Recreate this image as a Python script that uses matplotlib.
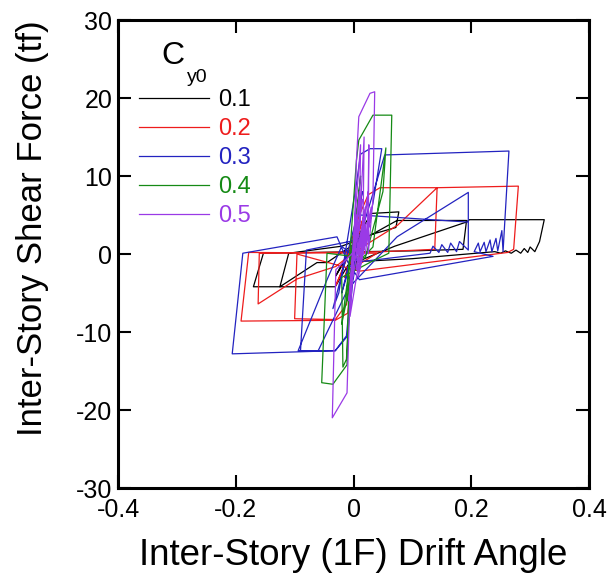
import matplotlib
matplotlib.use("Agg")
import matplotlib.pyplot as plt
from matplotlib.ticker import FixedLocator, FixedFormatter

plt.rcParams['font.family'] = ['Liberation Sans', 'DejaVu Sans']
plt.rcParams['axes.unicode_minus'] = False

# ---- data (drift angle, shear force tf) ----
labels = ['0.1', '0.2', '0.3', '0.4', '0.5']
colors = ['#000000', '#ee1c1c', '#2323c0', '#158a15', '#9a3ae6']

black_x = [0, 0.006, 0.002, -0.012, -0.006, 0.018, 0.012, -0.03, -0.022, 0.03, 0.077, 0.072, 0.035,
           -0.02, -0.11, -0.125, -0.062, -0.045, 0.0, 0.074, 0.192, 0.186, 0.1, -0.153, -0.17, -0.031,
           -0.01, 0.07, 0.192, 0.197, 0.324, 0.316, 0.308, 0.300, 0.296, 0.290, 0.284, 0.276, 0.268,
           0.258, 0.25, 0.24, 0.10, 0.0]
black_y = [0, 2.6, 1.4, -2.2, -1.2, 3.6, 2.4, -2.8, -1.6, 5.2, 5.4, 3.4, 2.6,
           1.0, 0.1, -4.2, -1.1, -1.1, 1.2, 4.3, 4.3, 0.6, 0.4, 0.1, -4.2, -4.2,
           -1.5, 1.0, 4.1, 4.4, 4.4, 1.6, 0.3, 0.9, 0.2, 0.7, 0.1, 0.5, 0.1,
           0.4, 0.1, 0.3, -0.6, -1.0]

red_x = [0, 0.008, 0.004, -0.015, -0.008, 0.02, 0.014, -0.03, -0.02, 0.01, 0.025, 0.045, 0.142,
         0.138, 0.05, -0.16, -0.162, -0.096, -0.03, 0.0, 0.075, 0.142, 0.28, 0.272, 0.262, 0.01,
         -0.096, -0.1, -0.031, -0.012, -0.005, 0.04, -0.178, -0.191, -0.031, -0.01, 0.0, 0.015, 0.0]
red_y = [0, 3.0, 1.6, -3.0, -1.8, 5.5, 4.0, -4.0, -2.4, 5.0, 7.6, 8.5, 8.5,
         0.6, 0.3, 0.1, -6.4, -3.2, -1.6, 0.2, 3.7, 8.5, 8.7, 0.6, 0.2, -2.2,
         0.0, -8.3, -8.4, -6.5, -2.0, 0.1, 0.2, -8.6, -8.5, -7.6, -2.5, 0.8, 0.0]

blue_x = [0, 0.01, 0.005, -0.02, -0.012, 0.015, 0.01, -0.035, -0.025, 0.005, 0.012, 0.028, 0.048,
          0.033, 0.02, -0.08, -0.09, -0.031, -0.012, -0.004, 0.074, 0.195, 0.195,
          0.18, 0.175, 0.165, 0.16, 0.15, 0.145, 0.135, 0.13, 0.01, -0.02, -0.045, -0.094,
          -0.06, 0.0, 0.01, 0.053, 0.264, 0.254, 0.252, 0.245, 0.242, 0.235, 0.232, 0.225, 0.222,
          0.215, 0.212, 0.205, 0.237, 0.01, -0.01, -0.028, -0.188, -0.206, -0.031, -0.01, 0.0,
          0.011, 0.193]
blue_y = [0, 4, 2.5, -5, -3, 8, 6, -7, -5, 9, 12.8, 13.5, 13.5,
          6.5, 2.0, 0.5, -12.4, -12.4, -10.5, -4.0, 2.2, 7.9, 0.5,
          1.6, 0.3, 1.4, 0.2, 1.2, 0.2, 1.0, 0.1, -1.0, 1.0, -3.3, -12.4,
          -12.4, -3.0, 2.0, 12.7, 13.2, 0.3, 3.0, 0.4, 2.0, 0.3, 1.8, 0.3, 1.5,
          0.3, 1.4, 0.3, -0.3, -3.3, -1.0, 2.2, 0.1, -12.8, -12.4, -10.5, -2.5,
          5.0, 4.1]

green_x = [0, 0.008, 0.004, -0.01, -0.005, 0.012, 0.008, -0.02, -0.012, 0.005, 0.009, 0.033, 0.065,
           0.06, 0.03, -0.02, -0.018, -0.012, -0.004, 0.033, 0.055, 0.05, 0.02, -0.045, -0.054,
           -0.035, -0.011, -0.008, 0.0]
green_y = [0, 6, 3, -6, -3, 10, 7, -9, -6, 12, 14.6, 17.8, 17.8,
           0.1, -1.0, -3.0, -14.5, -13.5, -2.0, 0.9, 13.6, 8.0, -0.5, 0.1, -16.5,
           -16.7, -14.2, -4.0, 0.0]

purple_x = [0, 0.006, 0.003, -0.005, -0.002, 0.01, 0.007, -0.008, -0.004, 0.012, 0.01, 0.018, 0.016,
            -0.006, 0.0, 0.005, 0.009, 0.028, 0.036, 0.033, 0.025, 0.026, 0.024, -0.03, -0.036,
            -0.011, -0.006, 0.02, 0.005, 0.025, 0.008, 0.03, 0.01, 0.02, 0.0, 0.015, 0.005, 0.022,
            0.012, 0.03, 0.02]
purple_y = [0, 5, 2, -4, -1, 8, 4, -6, -2, 14, 3, 15, 2,
            -8, -1, 12, 17.6, 20.6, 20.8, 7, 0, 14, 2, -2, -21.0,
            -17.8, -5, 6, -2, 8, -3, 5, -2, 3, -1, 7, 0, 4,
            -1, 6, 0]

series_x = [black_x, red_x, blue_x, green_x, purple_x]
series_y = [black_y, red_y, blue_y, green_y, purple_y]

xticks = [-0.4, -0.2, 0, 0.2, 0.4]
xticklabels = ['-0.4', '-0.2', '0', '0.2', '0.4']
yticks = [-30, -20, -10, 0, 10, 20, 30]
yticklabels = ['-30', '-20', '-10', '0', '10', '20', '30']

fig = plt.figure(figsize=(6.11, 5.75), dpi=100)
ax = fig.add_axes([118/611, 87/575, 471/611, 468/575])

handles = []
for xs, ys, c, lab in zip(series_x, series_y, colors, labels):
    h, = ax.plot(xs, ys, color=c, lw=0.9, label=lab)
    handles.append(h)

ax.set_xlim(-0.4, 0.4)
ax.set_ylim(-30, 30)
ax.xaxis.set_major_locator(FixedLocator(xticks))
ax.xaxis.set_major_formatter(FixedFormatter(xticklabels))
ax.yaxis.set_major_locator(FixedLocator(yticks))
ax.yaxis.set_major_formatter(FixedFormatter(yticklabels))
ax.tick_params(direction='in', length=9.5, width=1.5, top=True, right=True,
               labelsize=18)
ax.tick_params(axis='x', pad=7)
ax.tick_params(axis='y', pad=4)
for s in ax.spines.values():
    s.set_linewidth(2.2)

ax.set_xlabel('Inter-Story (1F) Drift Angle', fontsize=26.5, labelpad=12)
ax.set_ylabel('Inter-Story Shear Force (tf)', fontsize=25)
ax.yaxis.set_label_coords(-0.147, 0.556)

leg = ax.legend(handles=handles, loc='upper left', bbox_to_anchor=(0.045, 0.853),
                frameon=False, fontsize=17, handlelength=2.95, handletextpad=0.38,
                labelspacing=0.3, borderpad=0, borderaxespad=0, labelcolor='linecolor')
ax.text(0.0913, 0.906, 'C', transform=ax.transAxes, fontsize=23, ha='left', va='baseline')
ax.text(0.1465, 0.8675, 'y0', transform=ax.transAxes, fontsize=14, ha='left', va='baseline')

fig.savefig('out.png', dpi=100)
